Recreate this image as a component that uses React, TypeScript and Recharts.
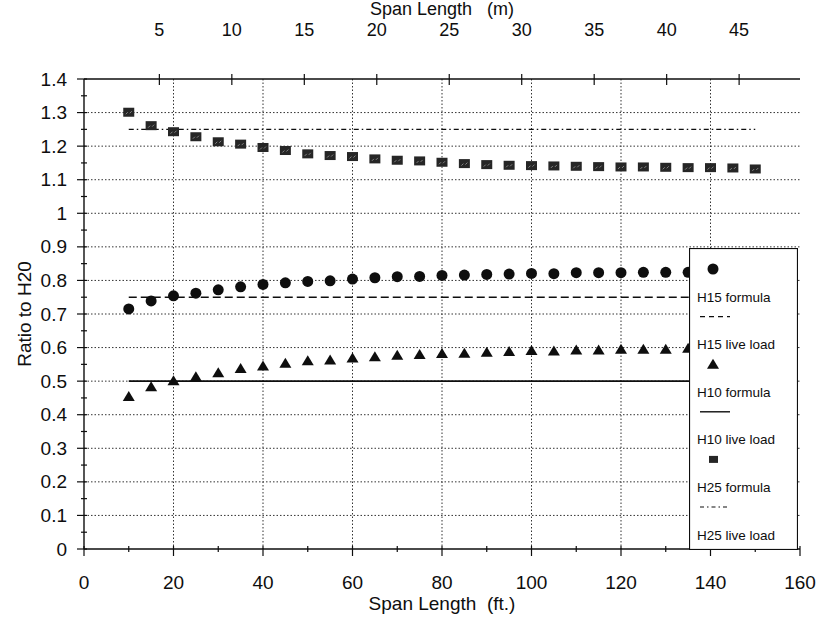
import React from 'react';
import { ComposedChart, Line, Scatter, XAxis, YAxis, CartesianGrid } from 'recharts';

// Span lengths (ft) at which each live-load ratio was evaluated
const spanFt = [10, 15, 20, 25, 30, 35, 40, 45, 50, 55, 60, 65, 70, 75, 80, 85, 90, 95, 100, 105, 110, 115, 120, 125, 130, 135, 140, 145, 150];

// Ratio of each live-load model to H20
const h15LiveLoad = [0.715, 0.739, 0.754, 0.762, 0.772, 0.781, 0.788, 0.793, 0.797, 0.799, 0.804, 0.808, 0.811, 0.812, 0.815, 0.816, 0.818, 0.819, 0.821, 0.82, 0.823, 0.823, 0.823, 0.824, 0.824, 0.824, 0.825, 0.825, 0.826];
const h10LiveLoad = [0.454, 0.483, 0.501, 0.513, 0.525, 0.538, 0.545, 0.553, 0.561, 0.563, 0.569, 0.573, 0.577, 0.579, 0.582, 0.583, 0.586, 0.588, 0.591, 0.59, 0.593, 0.593, 0.595, 0.595, 0.595, 0.598, 0.598, 0.599, 0.6];
const h25LiveLoad = [1.301, 1.261, 1.243, 1.228, 1.213, 1.206, 1.196, 1.187, 1.177, 1.172, 1.169, 1.162, 1.158, 1.156, 1.152, 1.148, 1.145, 1.143, 1.142, 1.141, 1.14, 1.139, 1.138, 1.138, 1.137, 1.136, 1.136, 1.135, 1.132];

// Formula ratios (constant with span)
const h15Formula = 0.75;
const h10Formula = 0.5;
const h25Formula = 1.25;

const FT_TO_M = 0.3048;

// Axis ticks
const ftTicks = [0, 10, 20, 30, 40, 50, 60, 70, 80, 90, 100, 110, 120, 130, 140, 150, 160];
const ftLabelStep = 20;
const mTicks = [5, 10, 15, 20, 25, 30, 35, 40, 45];
const ratioTicks = [0, 0.05, 0.1, 0.15, 0.2, 0.25, 0.3, 0.35, 0.4, 0.45, 0.5, 0.55, 0.6, 0.65, 0.7, 0.75, 0.8, 0.85, 0.9, 0.95, 1, 1.05, 1.1, 1.15, 1.2, 1.25, 1.3, 1.35, 1.4];
const ratioGrid = [0.1, 0.2, 0.3, 0.4, 0.5, 0.6, 0.7, 0.8, 0.9, 1, 1.1, 1.2, 1.3];
const ftGrid = [20, 40, 60, 80, 100, 120, 140];

const legendRows = [
  { symbol: 'circle', label: 'H15 formula' },
  { symbol: 'dash', label: 'H15 live load' },
  { symbol: 'triangle', label: 'H10 formula' },
  { symbol: 'solid', label: 'H10 live load' },
  { symbol: 'square', label: 'H25 formula' },
  { symbol: 'dashdot', label: 'H25 live load' },
];

const rows = spanFt.map((ft, i) => ({
  ft,
  spanM: ft * FT_TO_M,
  h15: h15LiveLoad[i],
  h10: h10LiveLoad[i],
  h25: h25LiveLoad[i],
  h15f: h15Formula,
  h10f: h10Formula,
  h25f: h25Formula,
}));

const FONT = '"Liberation Sans", Arial, Helvetica, sans-serif';
const INK = '#0e0e0e';
const FS = 19;
const FS_TOP = 18;

const fmtRatio = (v: number) => String(Math.round(v * 10) / 10);
const isTenth = (v: number) => Math.abs(v * 10 - Math.round(v * 10)) < 1e-6;

const FtTick = (props: any) => {
  const { x, y, payload } = props;
  const v = payload.value;
  const major = v % ftLabelStep === 0;
  return (
    <g>
      <line x1={x} x2={x} y1={y - 3} y2={major ? y + 7 : y + 3} stroke={INK} strokeWidth={1.2} />
      {major && (
        <text x={x} y={y + 33} textAnchor="middle" dominantBaseline="central" fontSize={FS} fontFamily={FONT} fill={INK}>
          {v}
        </text>
      )}
    </g>
  );
};

const MTick = (props: any) => {
  const { x, y, payload } = props;
  return (
    <g>
      <line x1={x} x2={x} y1={y - 5} y2={y + 6} stroke={INK} strokeWidth={1.2} />
      <text x={x} y={y - 49} textAnchor="middle" dominantBaseline="central" fontSize={FS_TOP} fontFamily={FONT} fill={INK}>
        {payload.value}
      </text>
    </g>
  );
};

const RatioTick = (props: any) => {
  const { x, y, payload } = props;
  const v = payload.value;
  const major = isTenth(v);
  return (
    <g>
      <line x1={major ? x - 7 : x - 3} x2={x + 3} y1={y} y2={y} stroke={INK} strokeWidth={1.2} />
      {major && (
        <text x={x - 17} y={y} textAnchor="end" dominantBaseline="central" fontSize={FS} fontFamily={FONT} fill={INK}>
          {fmtRatio(v)}
        </text>
      )}
    </g>
  );
};

const AxisTitle = (props: any) => {
  const { viewBox, text, dx = 0, dy = 0, rotate = false, size = FS } = props;
  const vb = viewBox || { x: 0, y: 0, width: 0, height: 0 };
  const cx = rotate ? vb.x + dx : vb.x + vb.width / 2 + dx;
  const cy = rotate ? vb.y + vb.height / 2 + dy : vb.y + dy;
  return (
    <text
      x={cx}
      y={cy}
      transform={rotate ? `rotate(-90 ${cx} ${cy})` : undefined}
      textAnchor="middle"
      dominantBaseline="central"
      fontSize={size}
      fontFamily={FONT}
      fill={INK}
      style={{ whiteSpace: 'pre' }}
    >
      {text}
    </text>
  );
};

const CircleMark = (props: any) => {
  const { cx, cy } = props;
  if (cx == null || cy == null) return null;
  return <circle cx={cx} cy={cy} r={5.5} fill={INK} />;
};

const TriangleMark = (props: any) => {
  const { cx, cy } = props;
  if (cx == null || cy == null) return null;
  return <polygon points={`${cx},${cy - 5.5} ${cx + 6},${cy + 4.5} ${cx - 6},${cy + 4.5}`} fill={INK} />;
};

const SquareMark = (props: any) => {
  const { cx, cy } = props;
  if (cx == null || cy == null) return null;
  return (
    <g>
      <rect x={cx - 5.5} y={cy - 4.5} width={11} height={9} fill="#262626" />
      <path d={`M${cx - 3},${cy + 2} L${cx - 1},${cy} M${cx + 1},${cy + 1} L${cx + 3},${cy - 1}`} stroke="#9a9a9a" strokeWidth={0.8} />
    </g>
  );
};

const LegendSymbol = ({ kind, y }: { kind: string; y: number }) => {
  const cx = 24;
  switch (kind) {
    case 'circle':
      return <circle cx={cx} cy={y} r={5.5} fill={INK} />;
    case 'triangle':
      return <polygon points={`${cx},${y - 5.5} ${cx + 6},${y + 4.5} ${cx - 6},${y + 4.5}`} fill={INK} />;
    case 'square':
      return <rect x={cx - 4} y={y - 3.5} width={9} height={7} fill="#262626" />;
    case 'dash':
      return <line x1={11} x2={41} y1={y} y2={y} stroke={INK} strokeWidth={1.2} strokeDasharray="5 4" />;
    case 'solid':
      return <line x1={11} x2={41} y1={y} y2={y} stroke={INK} strokeWidth={1.4} />;
    default:
      return <line x1={11} x2={41} y1={y} y2={y} stroke={INK} strokeWidth={1.1} strokeDasharray="4 3 1.5 3" />;
  }
};

const LegendBox = () => {
  const w = 109;
  const h = 302;
  const pitch = 47.6;
  return (
    <div style={{ position: 'absolute', left: 689, top: 248, width: w, height: h }}>
      <svg width={w} height={h}>
        <rect x={0.5} y={0.5} width={w - 1} height={h - 1} fill="#fff" stroke={INK} strokeWidth={1.2} />
        {legendRows.map((r, i) => (
          <g key={r.label}>
            <LegendSymbol kind={r.symbol} y={21 + i * pitch} />
            <text x={8} y={49 + i * pitch} dominantBaseline="central" fontSize={13.5} fontFamily={FONT} fill={INK}>
              {r.label}
            </text>
          </g>
        ))}
      </svg>
    </div>
  );
};

export default function App() {
  return (
    <div style={{ position: 'absolute', left: 0, top: 0, width: 816, height: 624, background: '#fff' }}>
      <ComposedChart width={816} height={624} data={rows} margin={{ top: 0, right: 16, bottom: 0, left: 0 }}>
        <CartesianGrid
          horizontalValues={ratioGrid}
          verticalValues={ftGrid}
          horizontal
          vertical
          stroke="#333"
          strokeWidth={1}
          strokeDasharray="1.5 2"
        />
        <XAxis
          dataKey="ft"
          type="number"
          domain={[0, 160]}
          ticks={ftTicks}
          interval={0}
          height={75}
          tickSize={0}
          tickMargin={0}
          tickLine={false}
          axisLine={{ stroke: INK, strokeWidth: 1.4 }}
          tick={<FtTick />}
          label={<AxisTitle text="Span Length  (ft.)" dy={54} />}
        />
        <XAxis
          xAxisId="m"
          dataKey="spanM"
          orientation="top"
          type="number"
          domain={[-0.2, 49.2]}
          allowDataOverflow
          ticks={mTicks}
          interval={0}
          height={79}
          tickSize={0}
          tickMargin={0}
          tickLine={false}
          axisLine={{ stroke: INK, strokeWidth: 1.4 }}
          tick={<MTick />}
          label={<AxisTitle text="Span Length   (m)" dy={9} size={FS_TOP} />}
        />
        <YAxis
          type="number"
          domain={[0, 1.4]}
          ticks={ratioTicks}
          interval={0}
          width={84}
          tickSize={0}
          tickMargin={0}
          tickLine={false}
          axisLine={{ stroke: INK, strokeWidth: 1.4 }}
          tick={<RatioTick />}
          label={<AxisTitle text="Ratio to H20" rotate dx={24} />}
        />
        <YAxis
          yAxisId="frame"
          orientation="right"
          type="number"
          domain={[0, 1.4]}
          width={0}
          tick={false}
          tickLine={false}
          axisLine={{ stroke: INK, strokeWidth: 1.4 }}
        />
        <Line dataKey="h25f" name="H25 formula" type="linear" stroke={INK} strokeWidth={1.1} strokeDasharray="5 3 1.5 3" dot={false} isAnimationActive={false} />
        <Line dataKey="h15f" name="H15 formula" type="linear" stroke={INK} strokeWidth={1.4} strokeDasharray="8 4" dot={false} isAnimationActive={false} />
        <Line dataKey="h10f" name="H10 formula" type="linear" stroke={INK} strokeWidth={1.7} dot={false} isAnimationActive={false} />
        <Scatter dataKey="h25" name="H25 live load" shape={<SquareMark />} isAnimationActive={false} />
        <Scatter dataKey="h15" name="H15 live load" shape={<CircleMark />} isAnimationActive={false} />
        <Scatter dataKey="h10" name="H10 live load" shape={<TriangleMark />} isAnimationActive={false} />
      </ComposedChart>
      <LegendBox />
    </div>
  );
}
